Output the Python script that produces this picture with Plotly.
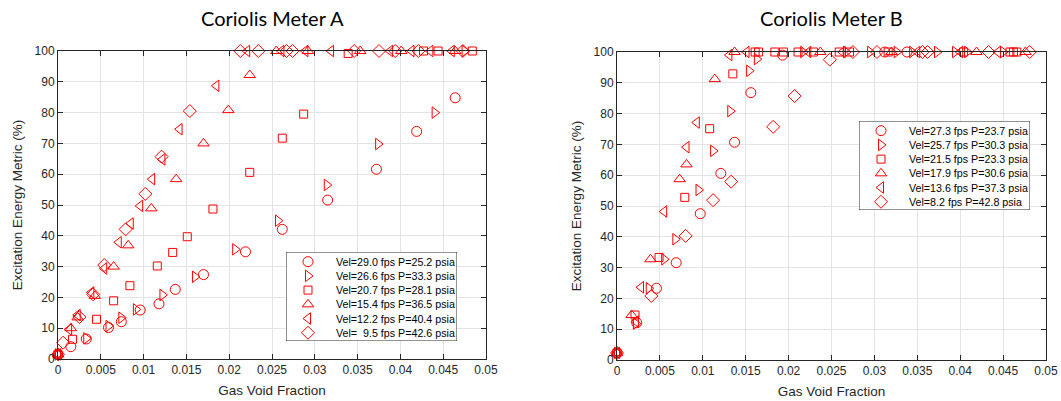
import plotly.graph_objects as go

# Meter A  (gas void fraction, excitation energy metric %)
a_labels = [
    "Vel=29.0 fps P=25.2 psia",
    "Vel=26.6 fps P=33.3 psia",
    "Vel=20.7 fps P=28.1 psia",
    "Vel=15.4 fps P=36.5 psia",
    "Vel=12.2 fps P=40.4 psia",
    "Vel=\u00a0\u00a09.5 fps P=42.6 psia",
]
a_x = [
    [0, 0.0015, 0.0033, 0.0059, 0.0074, 0.0096, 0.0118, 0.0137, 0.0170, 0.0219, 0.0262, 0.0315, 0.0372, 0.0419, 0.0464],
    [0, 0.0033, 0.0059, 0.0074, 0.0091, 0.0122, 0.0160, 0.0207, 0.0257, 0.0314, 0.0374, 0.0440, 0.0475],
    [0, 0.0017, 0.0045, 0.0065, 0.0084, 0.0116, 0.0134, 0.0151, 0.0181, 0.0224, 0.0262, 0.0287, 0.0339, 0.0427, 0.0444, 0.0484],
    [0, 0.0015, 0.0023, 0.0043, 0.0065, 0.0082, 0.0109, 0.0138, 0.0170, 0.0199, 0.0224, 0.0255, 0.0292, 0.0353, 0.0401, 0.0464],
    [0, 0.0013, 0.0023, 0.0039, 0.0054, 0.0071, 0.0085, 0.0096, 0.0110, 0.0122, 0.0142, 0.0185, 0.0221, 0.0261, 0.0289, 0.0319, 0.0388, 0.0413, 0.0435, 0.0460],
    [0, 0.0006, 0.0025, 0.0041, 0.0054, 0.0079, 0.0102, 0.0121, 0.0154, 0.0213, 0.0234, 0.0267, 0.0274, 0.0346, 0.0375, 0.0394, 0.0421, 0.0473],
]
a_y = [
    [1.5, 4.0, 6.5, 10.2, 12.1, 15.9, 17.9, 22.6, 27.4, 34.8, 42.1, 51.6, 61.6, 73.9, 84.8],
    [1.5, 6.7, 10.7, 13.4, 16.1, 20.8, 26.7, 35.6, 44.9, 56.5, 69.8, 80.0, 100],
    [1.5, 6.4, 12.9, 18.9, 23.8, 30.2, 34.6, 39.7, 48.7, 60.6, 71.7, 79.5, 99.2, 100, 100, 100],
    [1.5, 10.0, 13.5, 20.5, 30.0, 36.9, 48.9, 58.4, 70.0, 80.8, 92.2, 100, 100, 100, 100, 100],
    [1.5, 9.6, 14.3, 21.6, 29.4, 37.9, 44.0, 49.7, 58.4, 64.8, 74.6, 88.7, 100, 100, 100, 100, 100, 100, 100, 100],
    [1.5, 5.3, 13.6, 21.0, 30.5, 42.1, 53.6, 65.7, 80.5, 100, 100, 100, 100, 100, 100, 100, 100, 100],
]

# Meter B
b_labels = [
    "Vel=27.3 fps P=23.7 psia",
    "Vel=25.7 fps P=30.3 psia",
    "Vel=21.5 fps P=23.3 psia",
    "Vel=17.9 fps P=30.6 psia",
    "Vel=13.6 fps P=37.3 psia",
    "Vel=8.2 fps P=42.8 psia",
]
b_x = [
    [0, 0.0023, 0.0046, 0.0069, 0.0097, 0.0121, 0.0137, 0.0156, 0.0193, 0.0312, 0.0338],
    [0, 0.0022, 0.0037, 0.0055, 0.0068, 0.0095, 0.0112, 0.0132, 0.0154, 0.0163, 0.0217, 0.0267, 0.0295, 0.0326, 0.0344, 0.0373, 0.0394, 0.0408, 0.0450],
    [0, 0.0021, 0.0049, 0.0079, 0.0108, 0.0135, 0.0161, 0.0165, 0.0184, 0.0194, 0.0211, 0.0229, 0.0259, 0.0271, 0.0316, 0.0404, 0.0458, 0.0462, 0.0466],
    [0, 0.0017, 0.0039, 0.0073, 0.0081, 0.0114, 0.0137, 0.0237, 0.0320, 0.0419, 0.0476],
    [0, 0.0022, 0.0028, 0.0055, 0.0081, 0.0093, 0.0131, 0.0151, 0.0223, 0.0263, 0.0350, 0.0400, 0.0444],
    [0, 0.0040, 0.0080, 0.0112, 0.0133, 0.0182, 0.0207, 0.0248, 0.0275, 0.0303, 0.0356, 0.0362, 0.0433, 0.0481],
]
b_y = [
    [2.3, 12.1, 23.3, 31.6, 47.5, 60.6, 70.7, 86.8, 99.0, 100, 100],
    [2.3, 11.8, 23.3, 32.7, 39.2, 55.2, 67.9, 80.8, 93.9, 97.7, 100, 100, 100, 100, 100, 100, 100, 100, 100],
    [2.3, 14.6, 33.3, 52.8, 75.1, 92.9, 100, 100, 100, 100, 100, 100, 100, 100, 100, 100, 100, 100, 100],
    [2.3, 14.6, 32.7, 58.7, 63.5, 91.2, 100, 100, 100, 100, 100],
    [2.3, 12.5, 23.6, 48.2, 69.1, 77.1, 99.0, 100, 100, 100, 100, 100, 100],
    [2.3, 20.8, 40.3, 51.9, 57.9, 75.7, 85.7, 97.5, 100, 100, 100, 100, 100, 100],
]

x_ticks = [0, 0.005, 0.01, 0.015, 0.02, 0.025, 0.03, 0.035, 0.04, 0.045, 0.05]
x_tick_text = ["0", "0.005", "0.01", "0.015", "0.02", "0.025", "0.03", "0.035", "0.04", "0.045", "0.05"]
y_ticks = [0, 10, 20, 30, 40, 50, 60, 70, 80, 90, 100]

SYMBOLS = ["circle-open", "triangle-right-open", "square-open",
           "triangle-up-open", "triangle-left-open", "diamond-open"]
SIZES = [10, 10, 8, 10, 10, 10]
RED = "#ff0000"
INK = "#262626"
FONT = "Liberation Sans, Arial"
W, H = 1061, 401

# plot boxes in pixels: (left, right, top, bottom)
BOX_A = (58, 486, 51, 359)
BOX_B = (617, 1046, 52, 360)
# legend boxes in pixels: (left, right, top, bottom)
LEG_A = (286, 457, 252, 341)
LEG_B = (859, 1030, 121, 210)
LEG_KEY_X = 22     # marker column, px from legend left
LEG_TEXT_X = 48    # text start, px from legend left


def xdom(box):
    return [box[0] / W, box[1] / W]


def ydom(box):
    return [1 - box[3] / H, 1 - box[2] / H]


fig = go.Figure()

for xs_all, ys_all, xa, ya in [(a_x, a_y, "x", "y"), (b_x, b_y, "x2", "y2")]:
    for i in range(len(xs_all)):
        fig.add_trace(
            go.Scatter(
                x=xs_all[i],
                y=ys_all[i],
                mode="markers",
                marker=dict(symbol=SYMBOLS[i], size=SIZES[i],
                            color=RED, line=dict(color=RED, width=1)),
                xaxis=xa,
                yaxis=ya,
                cliponaxis=False,
                showlegend=False,
            )
        )

# hand-built legends (plotly's own legend rows can't be packed as tightly)
annotations = []
shapes = []
rows = list(range(6))
for labels, leg, xa, ya in [(a_labels, LEG_A, "x3", "y3"), (b_labels, LEG_B, "x4", "y4")]:
    for i, label in enumerate(labels):
        fig.add_trace(
            go.Scatter(
                x=[LEG_KEY_X],
                y=[rows[i]],
                mode="markers",
                marker=dict(symbol=SYMBOLS[i], size=SIZES[i],
                            color=RED, line=dict(color=RED, width=1)),
                xaxis=xa,
                yaxis=ya,
                cliponaxis=False,
                showlegend=False,
                hoverinfo="skip",
            )
        )
        annotations.append(dict(
            text=label, x=LEG_TEXT_X, y=rows[i], xref=xa, yref=ya,
            xanchor="left", yanchor="middle", showarrow=False,
            font=dict(family=FONT, size=10.7, color="#000000"),
        ))
    shapes.append(dict(
        type="rect", xref=xa, yref=ya, x0=0, x1=leg[1] - leg[0], y0=-0.68, y1=5.58,
        line=dict(color=INK, width=1), fillcolor="white", layer="below",
    ))


def axis_common(**kw):
    d = dict(
        showline=True,
        linecolor=INK,
        linewidth=1,
        mirror="ticks",
        ticks="inside",
        ticklen=5,
        tickcolor=INK,
        showgrid=True,
        gridcolor="#e3e3e3",
        gridwidth=1,
        zeroline=False,
        tickfont=dict(family=FONT, size=12, color=INK),
        automargin=False,
    )
    d.update(kw)
    return d


def hidden_axis(**kw):
    d = dict(visible=False, showgrid=False, zeroline=False, fixedrange=True, automargin=False)
    d.update(kw)
    return d


x_common = dict(range=[0, 0.05], tickvals=x_ticks, ticktext=x_tick_text,
                title=dict(text="Gas Void Fraction",
                           font=dict(family=FONT, size=13.5, color=INK), standoff=9))
y_common = dict(range=[0, 100], tickvals=y_ticks,
                title=dict(text="Excitation Energy Metric (%)",
                           font=dict(family=FONT, size=13.5, color=INK), standoff=8))

title_font = dict(family="Lato, Open Sans", size=20, color="#000000")

fig.update_layout(
    width=W,
    height=H,
    margin=dict(l=0, r=0, t=0, b=0, autoexpand=False),
    paper_bgcolor="white",
    plot_bgcolor="rgba(0,0,0,0)",
    xaxis=axis_common(domain=xdom(BOX_A), anchor="y", **x_common),
    yaxis=axis_common(domain=ydom(BOX_A), anchor="x", **y_common),
    xaxis2=axis_common(domain=xdom(BOX_B), anchor="y2", **x_common),
    yaxis2=axis_common(domain=ydom(BOX_B), anchor="x2", **y_common),
    xaxis3=hidden_axis(domain=xdom(LEG_A), anchor="y3", range=[0, LEG_A[1] - LEG_A[0]]),
    yaxis3=hidden_axis(domain=ydom(LEG_A), anchor="x3", range=[5.58, -0.68]),
    xaxis4=hidden_axis(domain=xdom(LEG_B), anchor="y4", range=[0, LEG_B[1] - LEG_B[0]]),
    yaxis4=hidden_axis(domain=ydom(LEG_B), anchor="x4", range=[5.58, -0.68]),
    shapes=shapes,
    annotations=annotations + [
        dict(text="Coriolis Meter A", x=(BOX_A[0] + BOX_A[1]) / 2 / W, y=1 - 18 / H,
             xref="paper", yref="paper", xanchor="center", yanchor="middle",
             showarrow=False, font=title_font),
        dict(text="Coriolis Meter B", x=(BOX_B[0] + BOX_B[1]) / 2 / W, y=1 - 18 / H,
             xref="paper", yref="paper", xanchor="center", yanchor="middle",
             showarrow=False, font=title_font),
    ],
)

# drop the browser's default 8px body margin so the figure sits at the page origin
fig.write_html(
    "out.html",
    config={"displayModeBar": False},
    post_script="document.body.style.margin='0';",
)
